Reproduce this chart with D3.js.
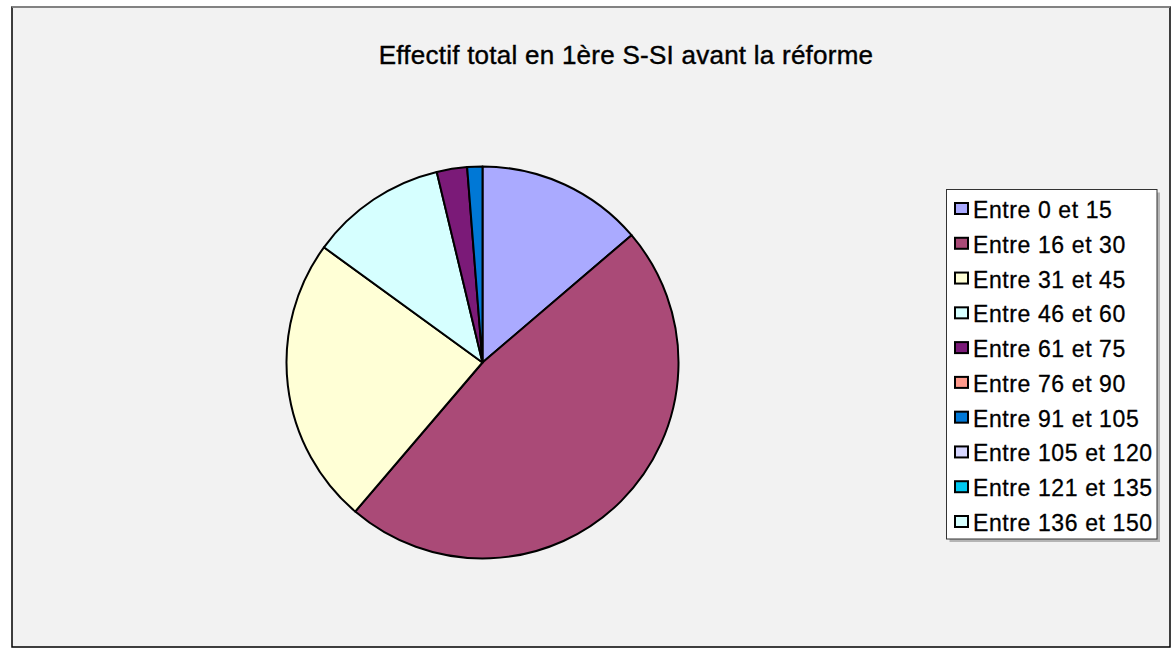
<!DOCTYPE html>
<html lang="fr">
<head>
<meta charset="UTF-8">
<title>Effectif total en 1ère S-SI avant la réforme</title>
<script src="https://d3js.org/d3.v7.min.js"></script>
<style>
  body { margin: 0; background: #fff; }
  text { font-family: "Liberation Sans", Arial, sans-serif; }
</style>
</head>
<body>
<script>
const categories = ["Entre 0 et 15", "Entre 16 et 30", "Entre 31 et 45", "Entre 46 et 60",
                    "Entre 61 et 75", "Entre 76 et 90", "Entre 91 et 105", "Entre 105 et 120",
                    "Entre 121 et 135", "Entre 136 et 150"];
const effectifs = [11, 38, 19, 9, 2, 0, 1, 0, 0, 0];
const colors = ["#aaaaff", "#aa4a77", "#ffffd6", "#d6ffff", "#7b1a78",
                "#ff9a8c", "#0078d6", "#d6d6ff", "#00c8f0", "#d6ffff"];
const title = "Effectif total en 1ère S-SI avant la réforme";

const w = 1172, h = 649;
const cx = 482.5, cy = 362.5, r = 196;

const svg = d3.select("body").append("svg")
    .attr("width", w)
    .attr("height", h);

// chart area
svg.append("rect")
   .attr("x", 12).attr("y", 7)
   .attr("width", 1158).attr("height", 640)
   .attr("fill", "#f2f2f2")
   .attr("stroke", "#000")
   .attr("stroke-width", 1.5);
svg.append("line")
   .attr("x1", 12).attr("x2", 1170)
   .attr("y1", 7).attr("y2", 7)
   .attr("stroke", "#9a9a9a")
   .attr("stroke-width", 1.5);

svg.append("text")
   .attr("x", 626)
   .attr("y", 64)
   .attr("text-anchor", "middle")
   .attr("font-size", 26)
   .attr("letter-spacing", 0.25)
   .attr("stroke", "#000")
   .attr("stroke-width", 0.4)
   .text(title);

const data = categories.map((c, i) => ({ cat: c, value: effectifs[i], color: colors[i] }));

const pie = d3.pie().value(d => d.value).sort(null);
const arc = d3.arc().innerRadius(0).outerRadius(r);

svg.append("g")
   .attr("transform", "translate(" + cx + "," + cy + ")")
   .selectAll("path")
   .data(pie(data).filter(d => d.data.value > 0))
   .enter()
   .append("path")
   .attr("d", arc)
   .attr("fill", d => d.data.color)
   .attr("stroke", "#000")
   .attr("stroke-width", 2)
   .attr("stroke-linejoin", "round");

// legend
const lx = 946.5, ly = 189.5, lw = 210.5, lh = 349.5;
svg.append("rect")
   .attr("x", lx + 3).attr("y", ly + 3)
   .attr("width", lw).attr("height", lh)
   .attr("fill", "#b5b5b5");
svg.append("rect")
   .attr("x", lx).attr("y", ly)
   .attr("width", lw).attr("height", lh)
   .attr("fill", "#fff")
   .attr("stroke", "#333")
   .attr("stroke-width", 1);

const rowY = d3.scalePoint()
    .domain(categories)
    .range([210, 523]);

const rows = svg.append("g").selectAll("g")
    .data(data)
    .enter()
    .append("g")
    .attr("transform", d => "translate(0," + rowY(d.cat) + ")");

rows.append("rect")
    .attr("x", 955).attr("y", -7)
    .attr("width", 13).attr("height", 11)
    .attr("fill", d => d.color)
    .attr("stroke", "#000")
    .attr("stroke-width", 2);

rows.append("text")
    .attr("x", 973)
    .attr("y", 8)
    .attr("font-size", 23)
    .attr("letter-spacing", 0.6)
    .attr("stroke", "#000")
    .attr("stroke-width", 0.3)
    .text(d => d.cat);
</script>
</body>
</html>
